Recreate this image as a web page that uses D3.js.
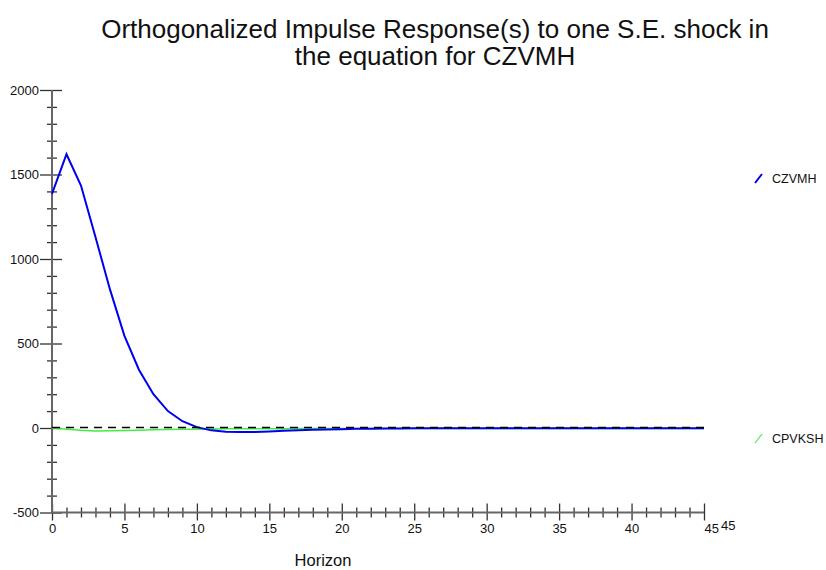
<!DOCTYPE html>
<html>
<head>
<meta charset="utf-8">
<script src="https://cdn.jsdelivr.net/npm/d3@7"></script>
<style>
  body { margin: 0; background: white; }
  text { font-family: "Liberation Sans", Arial, sans-serif; }
</style>
</head>
<body>
<script>
const horizons = d3.range(0, 46);
const czvmh = [1385, 1620, 1435, 1130, 820, 545, 345, 200, 100, 40, 5, -14, -22, -24, -23, -20, -17, -14, -11, -9,
    -7, -5, -4, -3, -3, -2, -2, -2, -2, -2, -2, -2, -2, -2, -2, -2, -2, -2, -2, -2, -2, -2, -2, -2, -2, -2];
const cpvksh = [0, -7, -14, -18, -17, -15, -13, -11, -9, -8, -7, -6, -5, -5, -4, -4, -4, -3, -3, -3,
    -3, -3, -3, -3, -3, -3, -3, -3, -3, -3, -3, -3, -3, -3, -3, -3, -3, -3, -3, -3, -3, -3, -3, -3, -3, -3];
const seriesNames = ["CZVMH", "CPVKSH"];
const seriesColors = ["#0000f0", "#40ee40"];
const xMajor = [0, 5, 10, 15, 20, 25, 30, 35, 40, 45];
const yMajor = [-500, 0, 500, 1000, 1500, 2000];

const wSvg = 826;
const hSvg = 570;
const pLeft = 52, pRight = 704, pTop = 90, pBottom = 512.5;

let svg = d3.select("body").append("svg")
    .attr("width", wSvg)
    .attr("height", hSvg);

let x = d3.scaleLinear([0, 45], [pLeft, pRight]);
let y = d3.scaleLinear([-500, 2000], [pBottom, pTop]);

// title
svg.append("text").attr("x", 435).attr("y", 38).attr("text-anchor", "middle")
    .attr("font-size", 26).attr("fill", "#111").text("Orthogonalized Impulse Response(s) to one S.E. shock in");
svg.append("text").attr("x", 435).attr("y", 65).attr("text-anchor", "middle")
    .attr("font-size", 26).attr("fill", "#111").text("the equation for CZVMH");

// y axis minor ticks
let yMinor = d3.range(-500, 2001, 100).filter(v => !yMajor.includes(v));
svg.append("g").attr("transform", `translate(${pLeft},0)`)
    .call(d3.axisLeft(y).tickValues(yMinor).tickSize(0).tickFormat(""))
    .call(g => g.select(".domain").remove())
    .selectAll(".tick line")
    .attr("x1", -5).attr("x2", 5).attr("stroke", "#333").attr("stroke-width", 1.3);

let yAx = svg.append("g").attr("transform", `translate(${pLeft},0)`)
    .call(d3.axisLeft(y).tickValues(yMajor).tickSize(12).tickPadding(1).tickFormat(d => String(d)))
    .call(g => g.select(".domain").remove());
yAx.selectAll(".tick line").attr("x2", 10).attr("x1", -12)
    .attr("stroke", "#333").attr("stroke-width", 1.3);
yAx.selectAll(".tick text").attr("font-size", 13).attr("fill", "#111")
    .attr("font-family", "Liberation Sans, Arial, sans-serif");

// x axis minor ticks
let xMinor = horizons.filter(v => !xMajor.includes(v));
svg.append("g").attr("transform", `translate(0,${pBottom})`)
    .call(d3.axisBottom(x).tickValues(xMinor).tickSize(0).tickFormat(""))
    .call(g => g.select(".domain").remove())
    .selectAll(".tick line")
    .attr("y1", -5).attr("y2", 5).attr("stroke", "#333").attr("stroke-width", 1.3);

let xAx = svg.append("g").attr("transform", `translate(0,${pBottom})`)
    .call(d3.axisBottom(x).tickValues(xMajor).tickSize(8).tickPadding(0).tickFormat(d => String(d)))
    .call(g => g.select(".domain").remove());
xAx.selectAll(".tick line").attr("y1", -9).attr("y2", 8)
    .attr("stroke", "#333").attr("stroke-width", 1.3);
xAx.selectAll(".tick text").attr("font-size", 13).attr("fill", "#111")
    .attr("font-family", "Liberation Sans, Arial, sans-serif")
    .attr("y", 20.5).attr("dy", 0)
    .attr("text-anchor", d => d == 45 ? "start" : "middle");

// extra end label beside the last tick
svg.append("text").attr("x", x(45) + 17).attr("y", pBottom + 17.5)
    .attr("font-size", 13).attr("fill", "#111").text(String(xMajor[xMajor.length - 1]));

// axis lines
svg.append("line").attr("x1", pLeft).attr("x2", pLeft).attr("y1", pTop).attr("y2", pBottom)
    .attr("stroke", "#666").attr("stroke-width", 2);
svg.append("line").attr("x1", pLeft).attr("x2", pRight).attr("y1", pBottom).attr("y2", pBottom)
    .attr("stroke", "#666").attr("stroke-width", 2);

const dMaker = d3.line()
    .x((d, i) => x(horizons[i]))
    .y(d => y(d));

svg.append("path").attr("d", dMaker(cpvksh)).attr("fill", "none")
    .attr("stroke", seriesColors[1]).attr("stroke-width", 1.5);
svg.append("path").attr("d", dMaker(czvmh)).attr("fill", "none")
    .attr("stroke", seriesColors[0]).attr("stroke-width", 2);

// zero line, drawn over the series
svg.append("line").attr("x1", x(0)).attr("x2", x(45)).attr("y1", y(0) - 0.5).attr("y2", y(0) - 0.5)
    .attr("stroke", "black").attr("stroke-width", 1.3).attr("stroke-dasharray", "8,6");

// legend
const legendY = [178, 438];
seriesNames.forEach((name, i) => {
    svg.append("line").attr("x1", 755).attr("x2", 762)
        .attr("y1", legendY[i] + 5).attr("y2", legendY[i] - 4)
        .attr("stroke", seriesColors[i]).attr("stroke-width", i == 0 ? 2 : 1.2);
    svg.append("text").attr("x", 772).attr("y", legendY[i] + 4.5)
        .attr("font-size", 12.5).attr("fill", "#111").text(name);
});

svg.append("text").attr("x", 323).attr("y", 566).attr("text-anchor", "middle")
    .attr("font-size", 16.5).attr("fill", "#111").text("Horizon");
</script>
</body>
</html>
